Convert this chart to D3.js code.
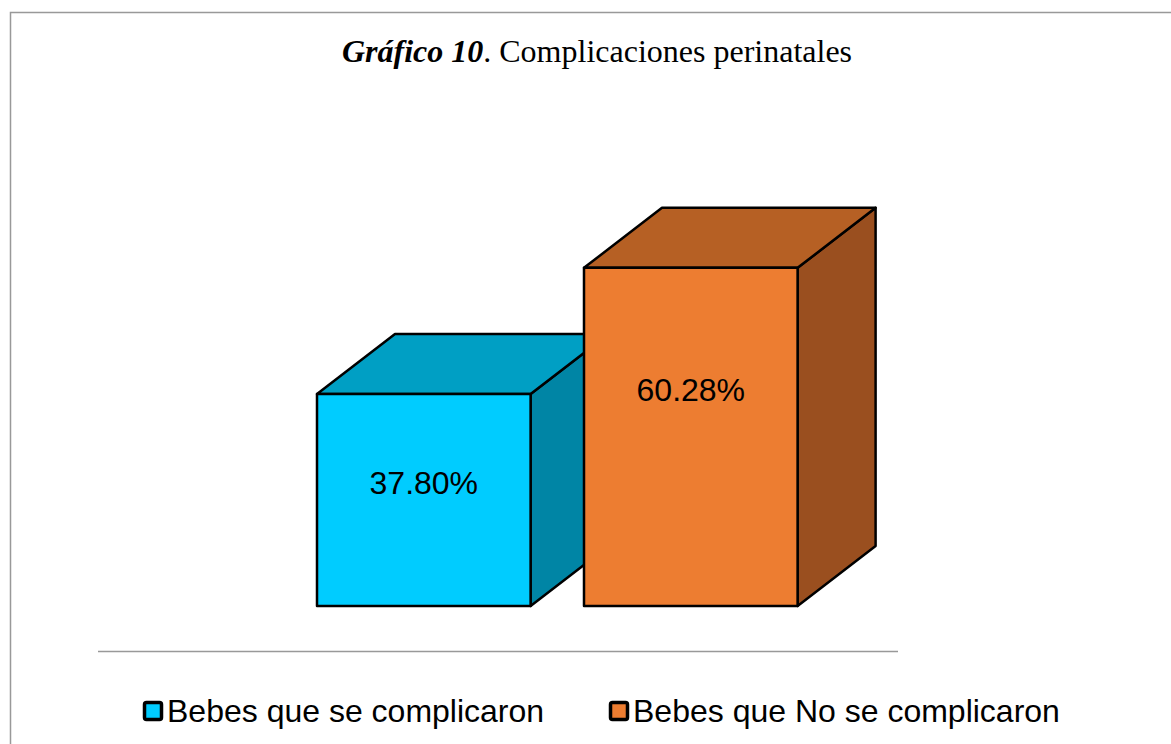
<!DOCTYPE html>
<html>
<head>
<meta charset="utf-8">
<script src="https://cdn.jsdelivr.net/npm/d3@7"></script>
<style>
  body { margin: 0; background: #fff; }
  svg { display: block; }
</style>
</head>
<body>
<div id="chart"></div>
<script>
    // data
    const categories = ['Bebes que se complicaron', 'Bebes que No se complicaron'];
    const values = [37.80, 60.28];
    const labels = ['37.80%', '60.28%'];
    const frontColors = ['#00CCFF', '#ED7D31'];
    const topColors = ['#009FC4', '#B66024'];
    const sideColors = ['#0085A5', '#9A4F1F'];

    const width = 1171;
    const height = 744;
    const depthX = 78;   // 3d depth offset
    const depthY = -60;

    const svg = d3.select('#chart')
        .append('svg')
        .attr('width', width)
        .attr('height', height);

    // outer chart frame
    svg.append('rect')
        .attr('x', 10.5)
        .attr('y', 12.5)
        .attr('width', 1200)
        .attr('height', 800)
        .attr('fill', 'none')
        .attr('stroke', '#999')
        .attr('stroke-width', 1.5);

    // title
    const title = svg.append('text')
        .attr('x', 597)
        .attr('y', 62)
        .attr('text-anchor', 'middle')
        .attr('font-family', '"Liberation Serif", "Times New Roman", serif')
        .attr('font-size', 32)
        .attr('fill', '#000');
    title.append('tspan').attr('font-weight', 'bold').attr('font-style', 'italic').text('Gráfico 10');
    title.append('tspan').text('. Complicaciones perinatales');

    const x = d3.scaleBand()
        .domain(categories)
        .range([290.3, 824.3])
        .paddingInner(0.2)
        .paddingOuter(0.1);

    const y = d3.scaleLinear()
        .domain([0, 70])
        .range([606, 213.3]);

    const bars = svg.append('g')
        .attr('stroke', '#000')
        .attr('stroke-width', 2.5)
        .attr('stroke-linejoin', 'round')
        .selectAll('g')
        .data(categories)
        .join('g');

    // side face
    bars.append('path')
        .attr('fill', (d, i) => sideColors[i])
        .attr('d', (d, i) => {
            const x1 = x(d) + x.bandwidth(), yt = y(values[i]), yb = y(0);
            return `M${x1},${yb}L${x1},${yt}L${x1 + depthX},${yt + depthY}L${x1 + depthX},${yb + depthY}Z`;
        });

    // top face
    bars.append('path')
        .attr('fill', (d, i) => topColors[i])
        .attr('d', (d, i) => {
            const x0 = x(d), x1 = x0 + x.bandwidth(), yt = y(values[i]);
            return `M${x0},${yt}L${x0 + depthX},${yt + depthY}L${x1 + depthX},${yt + depthY}L${x1},${yt}Z`;
        });

    // front face
    bars.append('rect')
        .attr('fill', (d, i) => frontColors[i])
        .attr('x', d => x(d))
        .attr('y', (d, i) => y(values[i]))
        .attr('width', x.bandwidth())
        .attr('height', (d, i) => y(0) - y(values[i]));

    // data labels
    svg.append('g')
        .selectAll('text')
        .data(categories)
        .join('text')
        .attr('x', d => x(d) + x.bandwidth() / 2)
        .attr('y', (d, i) => {
            const h = y(0) - y(values[i]);
            return y(values[i]) + 0.26 * h + 34;
        })
        .attr('dy', '0.35em')
        .attr('text-anchor', 'middle')
        .attr('font-family', '"Liberation Sans", Arial, sans-serif')
        .attr('font-size', 32)
        .attr('fill', '#000')
        .text((d, i) => labels[i]);

    // horizontal line under the plot
    svg.append('line')
        .attr('x1', 98)
        .attr('x2', 898)
        .attr('y1', 651.5)
        .attr('y2', 651.5)
        .attr('stroke', '#999')
        .attr('stroke-width', 1.5);

    // legend
    const legendX = [143, 609];
    const legend = svg.append('g')
        .selectAll('g')
        .data(categories)
        .join('g')
        .attr('transform', (d, i) => `translate(${legendX[i]},701)`);

    legend.append('rect')
        .attr('x', 1.5)
        .attr('y', 1.5)
        .attr('width', 17)
        .attr('height', 17)
        .attr('rx', 2)
        .attr('fill', (d, i) => frontColors[i])
        .attr('stroke', '#000')
        .attr('stroke-width', 3.5);

    legend.append('text')
        .attr('x', 24)
        .attr('y', 21)
        .attr('font-family', '"Liberation Sans", Arial, sans-serif')
        .attr('font-size', 32)
        .attr('fill', '#000')
        .text(d => d);
</script>
</body>
</html>
